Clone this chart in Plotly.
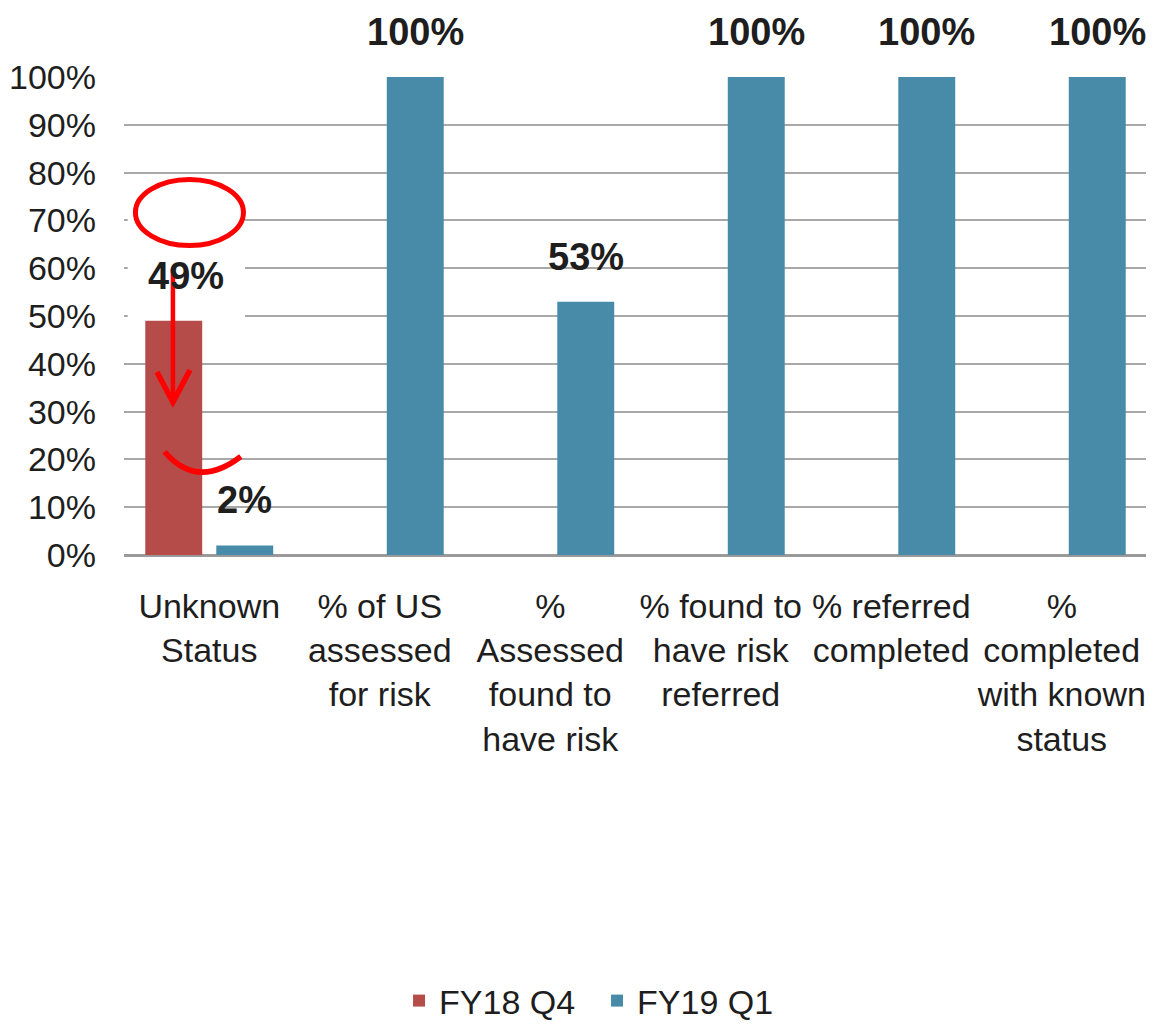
import plotly.graph_objects as go

# ---- data ----
categories = [
    "Unknown<br>Status",
    "% of US<br>assessed<br>for risk",
    "%<br>Assessed<br>found to<br>have risk",
    "% found to<br>have risk<br>referred",
    "% referred<br>completed",
    "%<br>completed<br>with known<br>status",
]
series_names = ["FY18 Q4", "FY19 Q1"]
fy18_q4 = [49, None, None, None, None, None]
fy19_q1 = [2, 100, 53, 100, 100, 100]
y_tick_vals = [0, 10, 20, 30, 40, 50, 60, 70, 80, 90, 100]
y_tick_text = ["0%", "10%", "20%", "30%", "40%", "50%", "60%", "70%", "80%", "90%", "100%"]

colors = ["#B54C4A", "#478BA8"]
FONT = "Liberation Sans, Arial, sans-serif"
TXT = "#1E1E1E"

x_idx = list(range(len(categories)))
BARGAP = 0.167
GROUPGAP = 0.198
slot = (1 - BARGAP) / 2
offsets = [-slot / 2, slot / 2]

fig = go.Figure()
for name, vals, col in zip(series_names, [fy18_q4, fy19_q1], colors):
    fig.add_trace(go.Bar(x=x_idx, y=vals, name=name, marker_color=col,
                         marker_line_width=0))

# data labels
annotations = []
label_xshift = {(0, 0): 12}
for s, vals in enumerate([fy18_q4, fy19_q1]):
    for i, v in enumerate(vals):
        if v is None:
            continue
        annotations.append(dict(
            x=i + offsets[s], y=v, xref="x", yref="y",
            text=f"{v}%", showarrow=False, yanchor="bottom",
            yshift=22, xshift=label_xshift.get((s, i), 0),
            font=dict(family=FONT, size=38, color=TXT, weight="bold"),
        ))

# hand-drawn red markup (in axis units)
RED = "#FF0000"
shapes = [
    # white box behind the 49% label
    dict(type="rect", xref="x", yref="y", x0=-0.478, x1=0.21, y0=49.6, y1=74,
         fillcolor="white", line_width=0, layer="between"),
    # ellipse
    dict(type="circle", xref="x", yref="y", x0=-0.433, x1=0.2006, y0=64.75, y1=78.56,
         fillcolor="white", line=dict(color=RED, width=5), layer="above"),
    # arrow shaft
    dict(type="line", xref="x", yref="y", x0=-0.213, x1=-0.213, y0=59.8, y1=33.0,
         line=dict(color=RED, width=4.5), layer="above"),
    # arrow head
    dict(type="path", xref="x", yref="y", path="M -0.307,38.3 L -0.213,32.0 L -0.113,38.7",
         line=dict(color=RED, width=5.5), layer="above"),
    # smile curve
    dict(type="path", xref="x", yref="y", path="M -0.262,21.6 Q -0.07,13.6 0.185,20.6",
         line=dict(color=RED, width=5.5), layer="above"),
]

# page body has an 8px default margin, so the figure is sized/offset to compensate
fig.update_layout(
    width=1146, height=1022,
    margin=dict(l=116, r=7, t=69, b=475),
    paper_bgcolor="white", plot_bgcolor="white",
    barmode="group", bargap=BARGAP, bargroupgap=GROUPGAP,
    font=dict(family=FONT, color=TXT),
    annotations=annotations,
    shapes=shapes,
    showlegend=True,
    legend=dict(orientation="h", xref="container", yref="container",
                x=0.514, xanchor="center", y=0.0, yanchor="bottom",
                font=dict(family=FONT, size=34, color=TXT),
                entrywidth=153, entrywidthmode="pixels",
                itemsizing="constant", traceorder="normal"),
)
fig.update_xaxes(
    range=[-0.5, 5.5], tickmode="array", tickvals=x_idx, ticktext=categories,
    showgrid=False, zeroline=False, showline=False, ticks="",
    tickfont=dict(family=FONT, size=34, color=TXT), ticklabelstandoff=28,
    tickangle=0, automargin=False,
)
fig.update_yaxes(
    range=[0, 100], tickmode="array", tickvals=y_tick_vals, ticktext=y_tick_text,
    showgrid=True, gridcolor="#A8A8A8", gridwidth=2,
    zeroline=True, zerolinecolor="#9A9A9A", zerolinewidth=2.5,
    showline=False, ticks="",
    tickfont=dict(family=FONT, size=34, color=TXT), ticklabelstandoff=27,
    automargin=False,
)
for tr in fig.data:
    tr.cliponaxis = False

fig.write_html("out.html")
